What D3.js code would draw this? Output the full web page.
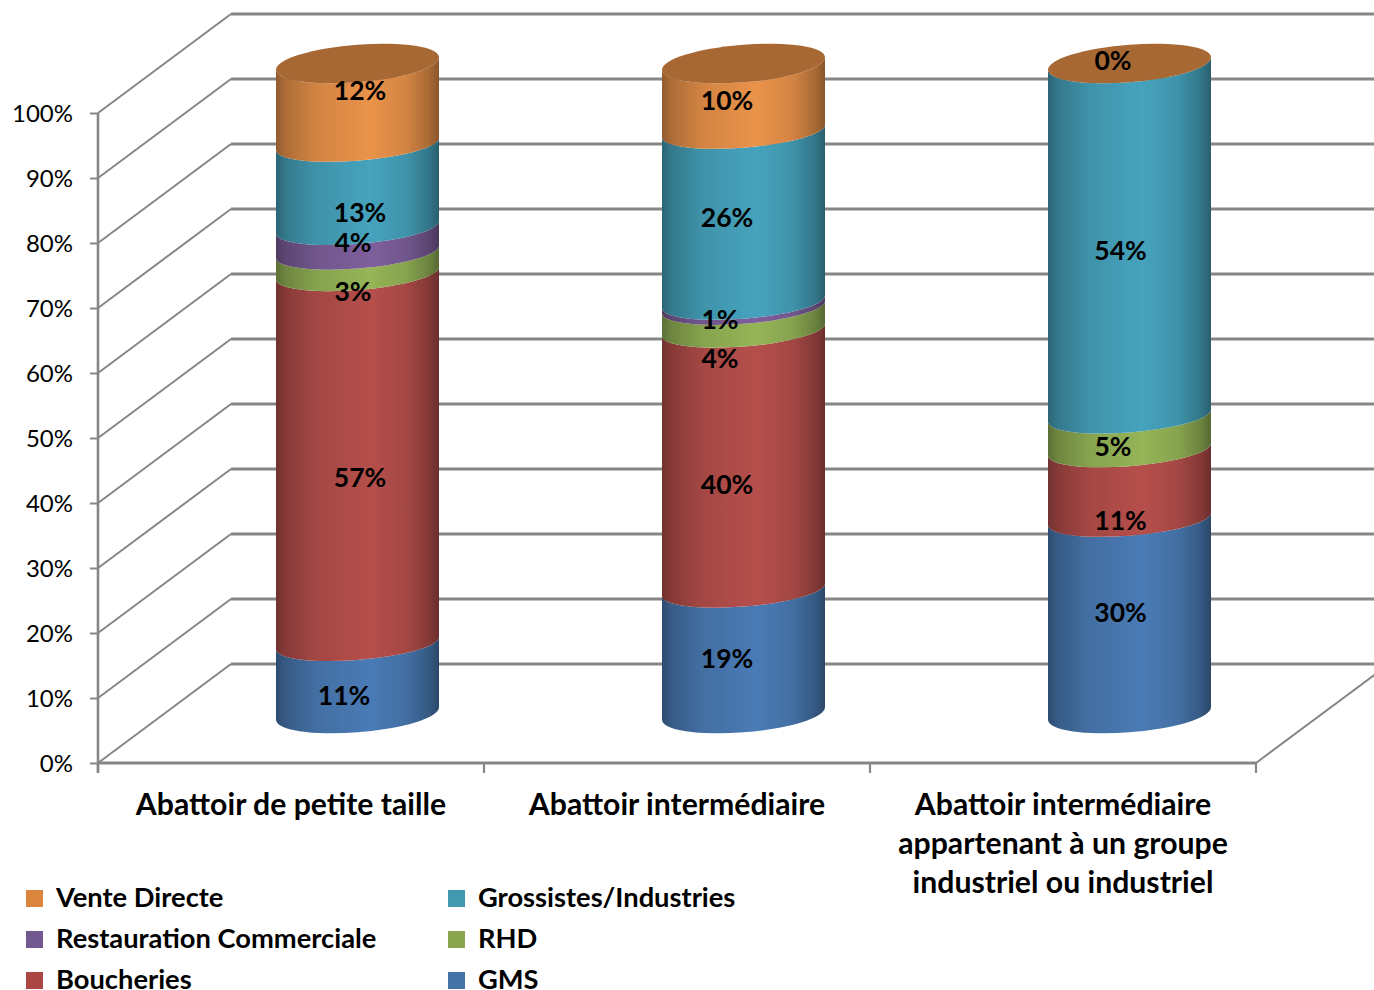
<!DOCTYPE html>
<html lang="fr"><head><meta charset="utf-8">
<script src="https://cdn.jsdelivr.net/npm/d3@7"></script>
<style>
html,body{margin:0;padding:0;background:#fff;overflow:hidden}
svg{display:block}
text{font-family:Lato,"Noto Sans",sans-serif;fill:#000}
</style></head><body>
<script>
// ---- data ----
const categories = ["Abattoir de petite taille", "Abattoir intermédiaire", "Abattoir intermédiaire appartenant à un groupe industriel ou industriel"];
const categoryLines = [["Abattoir de petite taille"], ["Abattoir intermédiaire"], ["Abattoir intermédiaire", "appartenant à un groupe", "industriel ou industriel"]];
const seriesNames = ["GMS", "Boucheries", "RHD", "Restauration Commerciale", "Grossistes/Industries", "Vente Directe"];
const gms = [10.8, 19.0, 29.9];
const boucheries = [56.9, 40.0, 10.7];
const rhd = [3.3, 3.5, 5.2];
const restauration = [3.8, 0.8, 0];
const grossistes = [12.8, 26.3, 54.2];
const vente = [12.4, 10.4, 0];
const percentTicks = [0, 10, 20, 30, 40, 50, 60, 70, 80, 90, 100];
const legendOrder = ["Vente Directe", "Grossistes/Industries", "Restauration Commerciale", "RHD", "Boucheries", "GMS"];

// ---- style ----
const legendColors = {"GMS":"#4572A7","Boucheries":"#AA4643","RHD":"#89A54E","Restauration Commerciale":"#71588F","Grossistes/Industries":"#4198AF","Vente Directe":"#DB843D"};
const lightColors = {"GMS":"#4A7BB5","Boucheries":"#B64F4B","RHD":"#95B557","Restauration Commerciale":"#7E5F9C","Grossistes/Industries":"#46A3BD","Vente Directe":"#EA934A"};
const topColor = "#A86833";
const gridColor = "#868686";

// ---- layout ----
const W = 1374, H = 990;
const plot = {left: 98, right: 1256, bottom: 763, top: 113};
const depth = {dx: 133, dy: 99};
const cyl = {a: 81.5, bOuter: 18.8, bInner: 16.6, k: 6.2};
// hand placement of the data labels relative to the band middle: [dx, dy] per series per category
const labelNudge = {
  "GMS": [[-13.5,17],[-16.5,7],[-9,-4]],
  "Boucheries": [[2.5,19],[-16.5,24.5],[-9,36]],
  "RHD": [[-4.5,29],[-23.5,40],[-16.5,14]],
  "Restauration Commerciale": [[-4.5,3],[-23.5,15],null],
  "Grossistes/Industries": [[2.5,27],[-16.5,1],[-9,11]],
  "Vente Directe": [[2.5,-13],[-16.5,3],[-16.5,-3]]
};

const svg = d3.select("body").append("svg").attr("width", W).attr("height", H);
const defs = svg.append("defs");

const x = d3.scaleBand().domain(categories).range([plot.left, plot.right]);
const y = d3.scaleLinear().domain([0, 100]).range([plot.bottom, plot.top]);

// ---- walls ----
const grid = svg.append("g").attr("fill", "none").attr("stroke", gridColor);
grid.selectAll("line.back").data(percentTicks).join("line").attr("class", "back")
  .attr("x1", plot.left + depth.dx).attr("x2", W + 5)
  .attr("y1", d => y(d) - depth.dy).attr("y2", d => y(d) - depth.dy)
  .attr("stroke-width", 2.8);
grid.selectAll("line.side").data(percentTicks).join("line").attr("class", "side")
  .attr("x1", plot.left).attr("x2", plot.left + depth.dx)
  .attr("y1", d => y(d)).attr("y2", d => y(d) - depth.dy)
  .attr("stroke-width", 2);
grid.append("line").attr("x1", plot.right).attr("y1", y(0))
  .attr("x2", plot.right + depth.dx).attr("y2", y(0) - depth.dy).attr("stroke-width", 2);

// ---- axes ----
const yAxis = svg.append("g").attr("transform", `translate(${plot.left},0)`)
  .call(d3.axisLeft(y).tickValues(percentTicks).tickFormat(d => d + "%").tickSize(8).tickPadding(17));
yAxis.select(".domain").remove();
yAxis.selectAll("line").attr("stroke", gridColor).attr("stroke-width", 2);
yAxis.selectAll("text").attr("font-size", 24).attr("font-family", "Lato").attr("dy", "0.37em");
svg.append("line").attr("x1", plot.left).attr("x2", plot.left).attr("y1", y(100)).attr("y2", y(0) + 10)
  .attr("stroke", gridColor).attr("stroke-width", 2.6);
svg.append("line").attr("x1", plot.left).attr("x2", plot.right).attr("y1", y(0)).attr("y2", y(0))
  .attr("stroke", gridColor).attr("stroke-width", 3);
const edges = categories.map(c => x(c)).concat([plot.right]);
svg.selectAll("line.xtick").data(edges).join("line").attr("class", "xtick")
  .attr("x1", d => d).attr("x2", d => d).attr("y1", y(0)).attr("y2", y(0) + 10)
  .attr("stroke", gridColor).attr("stroke-width", 2.2);

// ---- gradients ----
const shade = [[0,.62],[.06,.74],[.25,.9],[.58,1],[.8,.9],[.94,.72],[1,.58]];
seriesNames.forEach((s, i) => {
  const g = defs.append("linearGradient").attr("id", "grad" + i)
    .attr("x1", 0).attr("x2", 1).attr("y1", 0).attr("y2", 0);
  const c = d3.rgb(lightColors[s]);
  shade.forEach(([o, m]) => g.append("stop").attr("offset", o)
    .attr("stop-color", d3.rgb(c.r * m, c.g * m, c.b * m).formatHex()));
});

// ---- cylinders ----
const columns = {"GMS":gms,"Boucheries":boucheries,"RHD":rhd,"Restauration Commerciale":restauration,"Grossistes/Industries":grossistes,"Vente Directe":vente};
const rows = categories.map((c, i) => Object.fromEntries(seriesNames.map(s => [s, columns[s][i]])));
const stacked = d3.stack().keys(seriesNames)(rows);

const yc = v => y(v) - depth.dy / 2;                         // axis of the cylinders, mid depth
const cxOf = c => x(c) + x.bandwidth() / 2 + depth.dx / 2;
const {a, bOuter, bInner, k} = cyl;
const band = (v0, v1) => {
  const b1 = v1 >= 99.99 ? bOuter : bInner, b0 = v0 <= 0 ? bOuter : bInner;
  return `M${-a},${yc(v1)}A${a},${b1} 0 0 0 ${a},${yc(v1)}L${a},${yc(v0)}A${a},${b0} 0 0 1 ${-a},${yc(v0)}Z`;
};

const cylG = svg.selectAll("g.cyl").data(categories).join("g").attr("class", "cyl")
  .attr("transform", c => `matrix(1,${-k / a},0,1,${cxOf(c)},0)`);

cylG.each(function (c, ci) {
  const g = d3.select(this);
  stacked.forEach((layer, si) => {
    const [v0, v1] = layer[ci];
    if (v1 - v0 <= 0) return;
    g.append("path").attr("d", band(v0, v1)).attr("fill", `url(#grad${si})`);
  });
  g.append("ellipse").attr("cx", 0).attr("cy", yc(100)).attr("rx", a).attr("ry", bOuter).attr("fill", topColor);
});

// ---- data labels ----
const labelG = svg.append("g").attr("font-weight", 700).attr("font-size", 26.5).attr("text-anchor", "middle");
stacked.forEach((layer, si) => {
  const name = seriesNames[si];
  categories.forEach((c, ci) => {
    const n = labelNudge[name][ci];
    if (!n) return;
    const [v0, v1] = layer[ci];
    labelG.append("text")
      .attr("x", cxOf(c) + n[0]).attr("y", yc((v0 + v1) / 2) + n[1]).attr("dy", ".35em")
      .text(Math.round(columns[name][ci]) + "%");
  });
});

// ---- category labels ----
categories.forEach((c, i) => {
  const t = svg.append("text").attr("text-anchor", "middle").attr("font-weight", 700).attr("font-size", 30.2);
  categoryLines[i].forEach((line, j) => {
    t.append("tspan").attr("x", x(c) + x.bandwidth() / 2).attr("y", plot.bottom + 52 + j * 39).text(line);
  });
});

// ---- legend ----
const legendX = d3.scalePoint().domain([0, 1]).range([26, 448]);
const legendY = d3.scalePoint().domain([0, 1, 2]).range([890, 972]);
const leg = svg.selectAll("g.leg").data(legendOrder).join("g").attr("class", "leg")
  .attr("transform", (d, i) => `translate(${legendX(i % 2)},${legendY(Math.floor(i / 2))})`);
leg.append("rect").attr("width", 17).attr("height", 17).attr("fill", d => legendColors[d]);
leg.append("text").attr("x", 30).attr("y", 17).attr("font-weight", 700).attr("font-size", 27.3).text(d => d);
</script>
</body></html>
